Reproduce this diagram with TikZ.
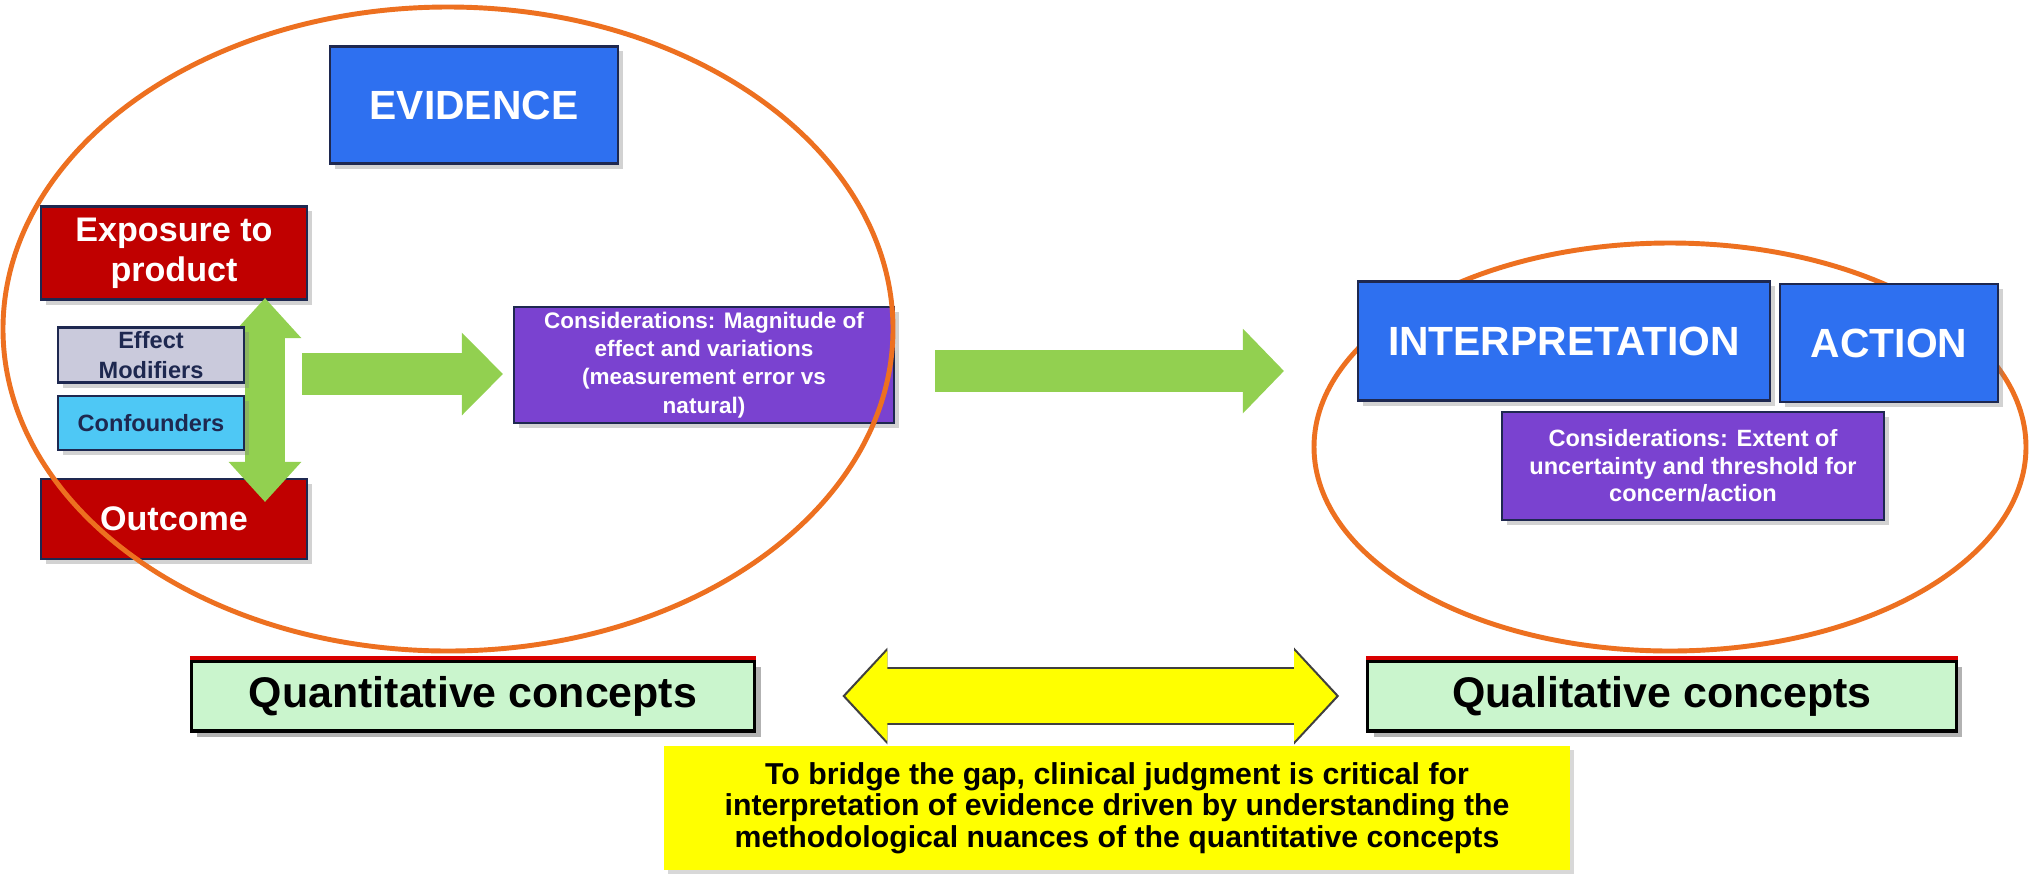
\documentclass[tikz,border=0pt]{standalone}
\usepackage{fontspec}
\setmainfont{Liberation Sans}
\usetikzlibrary{arrows.meta,shadows}
\definecolor{evblue}{RGB}{46,112,240}
\definecolor{evred}{RGB}{192,0,0}
\definecolor{evpurple}{RGB}{122,66,208}
\definecolor{evgrey}{RGB}{202,202,220}
\definecolor{evcyan}{RGB}{78,200,245}
\definecolor{evgreen}{RGB}{146,208,80}
\definecolor{evorange}{RGB}{237,112,32}
\definecolor{evmint}{RGB}{202,245,205}
\definecolor{evyellow}{RGB}{255,255,0}
\definecolor{boxline}{RGB}{30,40,80}
\tikzset{
  box/.style={draw=boxline, line width=0.6pt, align=center, inner sep=0pt,
    drop shadow={shadow xshift=0.05cm, shadow yshift=-0.05cm, opacity=0.35}},
  bluebox/.style={box, fill=evblue, text=white, font=\fontsize{11.6}{14}\selectfont\bfseries},
  redbox/.style={box, fill=evred, text=white, font=\fontsize{9.7}{11.4}\selectfont\bfseries},
  smallbox/.style={box, text=boxline, font=\fontsize{6.7}{8.3}\selectfont\bfseries},
  purplebox/.style={box, fill=evpurple, text=white, font=\fontsize{6.4}{8}\selectfont\bfseries},
  conceptbox/.style={draw=black, line width=0.9pt, fill=evmint, inner sep=0pt,
    font=\fontsize{12.2}{14}\selectfont\bfseries,
    drop shadow={shadow xshift=0.06cm, shadow yshift=-0.06cm, opacity=0.6}},
  bridgebox/.style={fill=evyellow, align=center, inner sep=0pt,
    font=\fontsize{8.6}{8.9}\selectfont\bfseries,
    drop shadow={shadow xshift=0.04cm, shadow yshift=-0.04cm, opacity=0.3}},
  greenarrow/.style={draw=evgreen, line width=0.42cm,
    -{Triangle[length=0.41cm,width=0.80cm]}},
  ring/.style={draw=evorange, line width=1.4pt},
  redtop/.style={draw=red!85!black, line width=1.1pt}
}
\begin{document}
\begin{tikzpicture}[x=0.01cm,y=-0.01cm]
\useasboundingbox (0,0) rectangle (2030,878);
\fill[white] (0,0) rectangle (2030,878);
\draw[ring] (1670,447) ellipse [x radius=356, y radius=204];
\node[bluebox, minimum width=2.88cm, minimum height=1.17cm] (Evidence) at (474,105) {EVIDENCE};
\node[redbox, minimum width=2.66cm, minimum height=0.93cm] (Exposure) at (174,253) {Exposure to\\product};
\node[redbox, minimum width=2.66cm, minimum height=0.80cm] (Outcome) at (174,519) {Outcome};
\coordinate (vtop) at (265,298);
\coordinate (vbot) at (265,502);
\draw[greenarrow, line width=0.40cm, {Triangle[length=0.40cm,width=0.70cm]}-{Triangle[length=0.40cm,width=0.70cm]}] (vtop) -- (vbot);
\node[smallbox, fill=evgrey, minimum width=1.86cm, minimum height=0.55cm] (Modifiers) at (151,355) {Effect\\Modifiers};
\node[smallbox, fill=evcyan, minimum width=1.86cm, minimum height=0.54cm] (Confounders) at (151,423) {Confounders};
\node[purplebox, minimum width=3.80cm, minimum height=1.16cm] (Magnitude) at (704,365) {Considerations: Magnitude of\\effect and variations\\(measurement error vs\\natural)};
\coordinate (g1a) at (302,374);
\coordinate (g1b) at (503,374);
\draw[greenarrow] (g1a) -- (g1b);
\draw[ring] (448,329) ellipse [x radius=445, y radius=322];
\coordinate (g2a) at (935,371);
\coordinate (g2b) at (1284,371);
\draw[greenarrow, line width=0.41cm, -{Triangle[length=0.41cm,width=0.82cm]}] (g2a) -- (g2b);
\node[bluebox, minimum width=4.11cm, minimum height=1.19cm] (Interpretation) at (1564,341) {INTERPRETATION};
\node[bluebox, minimum width=2.18cm, minimum height=1.18cm] (Action) at (1889,343) {ACTION};
\node[purplebox, font=\fontsize{6.7}{7.8}\selectfont\bfseries, minimum width=3.81cm, minimum height=1.08cm] (Extent) at (1693,466) {Considerations: Extent of\\uncertainty and threshold for\\concern/action};
\node[conceptbox, minimum width=5.63cm, minimum height=0.70cm] (Quant) at (473,696) {Quantitative concepts};
\node[conceptbox, minimum width=5.88cm, minimum height=0.70cm] (Qual) at (1662,696) {Qualitative concepts};
\draw[redtop] ([yshift=0.018cm]Quant.north west) -- ([yshift=0.018cm]Quant.north east);
\draw[redtop] ([yshift=0.018cm]Qual.north west) -- ([yshift=0.018cm]Qual.north east);
\draw[black!75, line width=0.58cm, shorten <=0.86cm, shorten >=0.27cm, {Triangle[length=0.45cm,width=0.94cm]}-{Triangle[length=0.45cm,width=0.94cm]}] (Quant) -- (Qual);
\draw[evyellow, line width=0.54cm, shorten <=0.89cm, shorten >=0.30cm, {Triangle[length=0.42cm,width=0.88cm]}-{Triangle[length=0.42cm,width=0.88cm]}] (Quant) -- (Qual);
\node[bridgebox, minimum width=9.06cm, minimum height=1.23cm] (Bridge) at (1117,808) {To bridge the gap, clinical judgment is critical for\\interpretation of evidence driven by understanding the\\methodological nuances of the quantitative concepts};
\end{tikzpicture}
\end{document}
